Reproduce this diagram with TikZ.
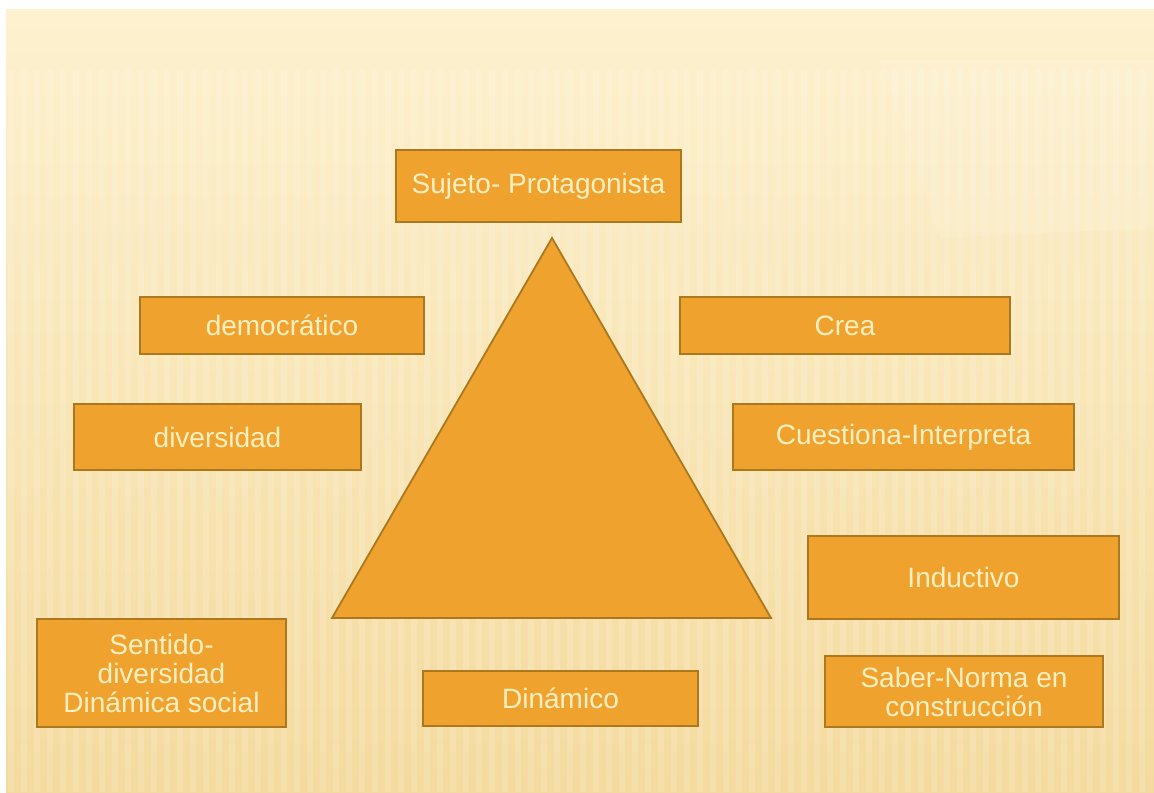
\documentclass[tikz,border=0pt]{standalone}
\usepackage{fontspec}
\setmainfont{Liberation Sans}
\usepackage{tikz}
\definecolor{boxOrange}{HTML}{F0A22E}
\definecolor{boxEdge}{HTML}{AC781E}
\definecolor{boxText}{HTML}{FFF0C2}
\definecolor{paperTop}{HTML}{FDF1CF}
\definecolor{paperBottom}{HTML}{F4DA9E}
\newcommand\pageW{1154}
\newcommand\pageH{792}
\newcommand\stripeTop{70}

\begin{document}
\begin{tikzpicture}[x=0.5pt, y=-0.5pt,
    conceptBox/.style={draw=boxEdge, line width=0.9pt, fill=boxOrange, text=boxText,
        inner sep=0pt, align=center, font=\fontsize{14}{14.5}\selectfont}]
    \useasboundingbox (0,0) rectangle (\pageW,\pageH);

    % paper with faint vertical stripes
    \fill[white] (0,0) rectangle (\pageW,\pageH);
    \shade[top color=paperTop, bottom color=paperBottom] (6,10) rectangle (\pageW,\pageH);
    \foreach \x in {8,21,...,1150} {
        \fill[white, opacity=0.14] (\x,\stripeTop) rectangle ++(6,{\pageH-\stripeTop});
    }
    \fill[white, opacity=0.1] (880,60) -- (\pageW,60) -- (\pageW,228) -- (940,238) -- cycle;

    % pyramid
    \coordinate (apex) at (552,238);
    \coordinate (baseL) at (332,618);
    \coordinate (baseR) at (771,618);
    \filldraw[fill=boxOrange, draw=boxEdge, line width=0.9pt] (apex) -- (baseR) -- (baseL) -- cycle;

    \node[conceptBox, minimum width=142.5pt, minimum height=36pt] (sujeto) at (538.5,186) {Sujeto- Protagonista};
    \node[conceptBox, minimum width=142pt, minimum height=28.5pt] (democratico) at (282,325.5) {democrático};
    \node[conceptBox, minimum width=165pt, minimum height=28.5pt] (crea) at (845,325.5) {Crea};
    \node[conceptBox, minimum width=143.5pt, minimum height=33pt] (diversidad) at (217.5,437) {diversidad};
    \node[conceptBox, minimum width=170.5pt, minimum height=33pt] (cuestiona) at (903.5,437) {Cuestiona-Interpreta};
    \node[conceptBox, minimum width=155.5pt, minimum height=41.5pt] (inductivo) at (963.5,577.5) {Inductivo};
    \node[conceptBox, minimum width=124.5pt, minimum height=54pt] (sentido) at (161.5,673) {Sentido-\\diversidad\\Dinámica social};
    \node[conceptBox, minimum width=137.5pt, minimum height=27.5pt] (dinamico) at (560.5,698.5) {Dinámico};
    \node[conceptBox, minimum width=139pt, minimum height=35.5pt] (saber) at (964,691.5) {Saber-Norma en\\construcción};

\end{tikzpicture}
\end{document}
